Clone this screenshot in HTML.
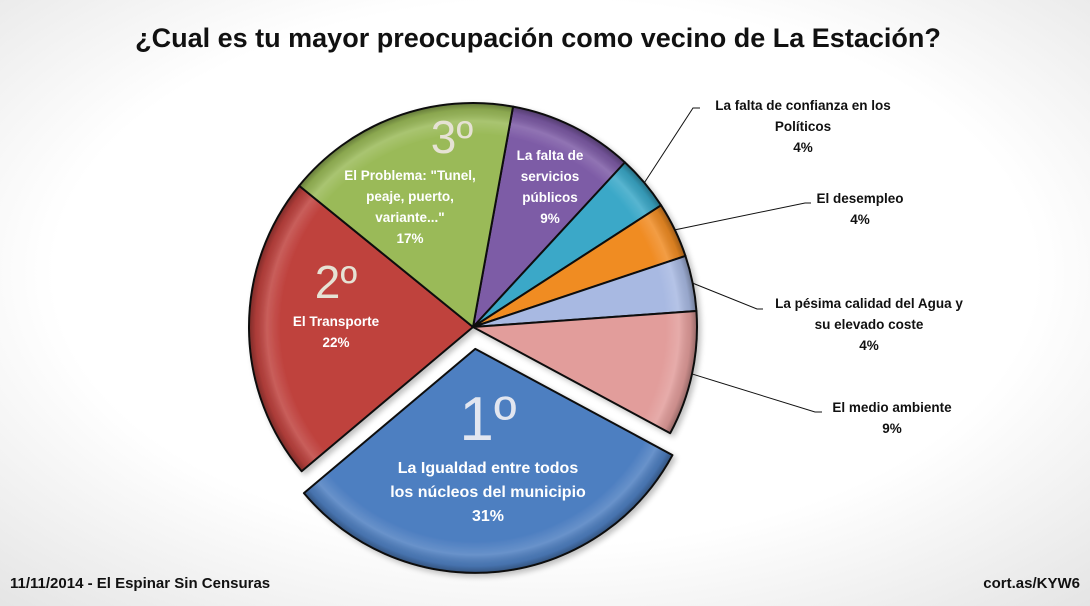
<!DOCTYPE html>
<html><head><meta charset="utf-8">
<style>
html,body{margin:0;padding:0;background:#fff;}
svg{display:block;font-family:"Liberation Sans",sans-serif;}
</style></head>
<body>
<svg id="chart" width="1090" height="606" viewBox="0 0 1090 606">
<defs>
<radialGradient id="bg" cx="50%" cy="45%" r="75%"><stop offset="0.6" stop-color="#ffffff"/><stop offset="1" stop-color="#e4e4e4"/></radialGradient>
<filter id="sh" x="-20%" y="-20%" width="140%" height="140%"><feGaussianBlur in="SourceAlpha" stdDeviation="3"/><feOffset dx="3" dy="3"/><feComponentTransfer><feFuncA type="linear" slope="0.25"/></feComponentTransfer><feMerge><feMergeNode/><feMergeNode in="SourceGraphic"/></feMerge></filter>
</defs>
<rect width="1090" height="606" fill="url(#bg)"/>
<text x="538" y="47" text-anchor="middle" font-size="27" font-weight="bold" fill="#111">¿Cual es tu mayor preocupación como vecino de La Estación?</text>
<g id="slices" filter="url(#sh)"></g>
<g id="labels"></g>
<text x="10" y="588" font-size="15" font-weight="bold" fill="#111">11/11/2014 - El Espinar Sin Censuras</text>
<text x="1080" y="588" text-anchor="end" font-size="15" font-weight="bold" fill="#111">cort.as/KYW6</text>
</svg>
<script>
const categories = ["La falta de servicios públicos","La falta de confianza en los Políticos","El desempleo","La pésima calidad del Agua y su elevado coste","El medio ambiente","La Igualdad entre todos los núcleos del municipio","El Transporte","El Problema: \"Tunel, peaje, puerto, variante...\""];
const values = [9,4,4,4,9,31,22,17];
const valueLabels = ["9%","4%","4%","4%","9%","31%","22%","17%"];
const colors = ["#7d5ba6","#3aa8c8","#f08c24","#a8b9e2","#e29d9b","#4e7fc1","#bf423e","#9aba58"];
const exploded = [0,0,0,0,0,1,0,0];
const cx=473, cy=327, R=224, startDeg=10.3, explodeDist=22;
const NS="http://www.w3.org/2000/svg";
const svg=document.getElementById('chart');
const defs=svg.querySelector('defs');
const gS=document.getElementById('slices'), gL=document.getElementById('labels');
const total=values.reduce((a,b)=>a+b,0);
function pt(deg,r,ox,oy){const a=deg*Math.PI/180;return [ox+r*Math.sin(a),oy-r*Math.cos(a)];}
let acc=startDeg;
const mids=[];
values.forEach((v,i)=>{
  const sweep=v/total*360, a0=acc, a1=acc+sweep, mid=(a0+a1)/2; acc=a1;
  let ox=cx, oy=cy;
  if(exploded[i]){const p=pt(mid,explodeDist,cx,cy);ox=p[0];oy=p[1];}
  mids.push([mid,ox,oy]);
  const gr=document.createElementNS(NS,'radialGradient');
  gr.setAttribute('id','shade'+i);gr.setAttribute('cx',ox);gr.setAttribute('cy',oy);gr.setAttribute('r',R);
  gr.setAttribute('gradientUnits','userSpaceOnUse');
  gr.innerHTML='<stop offset="0.86" stop-color="#fff" stop-opacity="0"/><stop offset="0.92" stop-color="#fff" stop-opacity="0.15"/><stop offset="0.97" stop-color="#000" stop-opacity="0.1"/><stop offset="1" stop-color="#000" stop-opacity="0.35"/>';
  defs.appendChild(gr);
  const p0=pt(a0,R,ox,oy), p1=pt(a1,R,ox,oy);
  const d=`M${ox},${oy}L${p0[0]},${p0[1]}A${R},${R} 0 ${sweep>180?1:0} 1 ${p1[0]},${p1[1]}Z`;
  const path=document.createElementNS(NS,'path');
  path.setAttribute('d',d);path.setAttribute('fill',colors[i]);
  
  
  gS.appendChild(path);
  const ov=document.createElementNS(NS,'path');
  ov.setAttribute('d',d);ov.setAttribute('fill','url(#shade'+i+')');
  ov.setAttribute('stroke','#111');ov.setAttribute('stroke-width','2');ov.setAttribute('stroke-linejoin','round');
  
  
  gS.appendChild(ov);
});
function txt(x,y,s,size,fill,weight,name){
  const t=document.createElementNS(NS,'text');
  t.setAttribute('x',x);t.setAttribute('y',y);t.setAttribute('text-anchor','middle');
  t.setAttribute('font-size',size);t.setAttribute('fill',fill);t.setAttribute('font-weight',weight);
  t.textContent=s;
  
  
  gL.appendChild(t);
}
function lines(x,y,arr,fill,name){arr.forEach((s,k)=>txt(x,y+k*21,s,13.5,fill,'bold',name+'-line'));}
lines(550,160,["La falta de","servicios","públicos",valueLabels[0]],"#fff","label-servicios");
txt(452,153,"3º",46,"#e6e2d4","normal","rank-3");
lines(410,180,["El Problema: \"Tunel,","peaje, puerto,","variante...\"",valueLabels[7]],"#fff","label-problema");
txt(336,298,"2º",46,"#e6e2d4","normal","rank-2");
lines(336,326,["El Transporte",valueLabels[6]],"#fff","label-transporte");
txt(488,440,"1º",62,"#e2e6f0","normal","rank-1");
[["La Igualdad entre todos",473],["los núcleos del municipio",497],[valueLabels[5],521]].forEach(a=>txt(488,a[1],a[0],16,"#fff","bold","label-igualdad-line"));
function leader(i,x2,y2,len,name){
  const m=mids[i], p=pt(m[0],R,m[1],m[2]);
  const l=document.createElementNS(NS,'polyline');
  l.setAttribute('points',`${p[0]},${p[1]} ${x2},${y2} ${x2+len},${y2}`);
  l.setAttribute('fill','none');l.setAttribute('stroke','#111');l.setAttribute('stroke-width','1');
  
  
  gL.appendChild(l);
}
leader(1,693,108,7,'leader-confianza');
lines(803,110,["La falta de confianza  en los","Políticos",valueLabels[1]],"#111","label-confianza");
leader(2,805,203,6,'leader-desempleo');
lines(860,203,["El desempleo",valueLabels[2]],"#111","label-desempleo");
leader(3,757,309,6,'leader-agua');
lines(869,308,["La pésima calidad  del Agua y","su elevado coste",valueLabels[3]],"#111","label-agua");
leader(4,815,412,7,'leader-medio-ambiente');
lines(892,412,["El medio ambiente",valueLabels[4]],"#111","label-medio-ambiente");
</script>
</body></html>
